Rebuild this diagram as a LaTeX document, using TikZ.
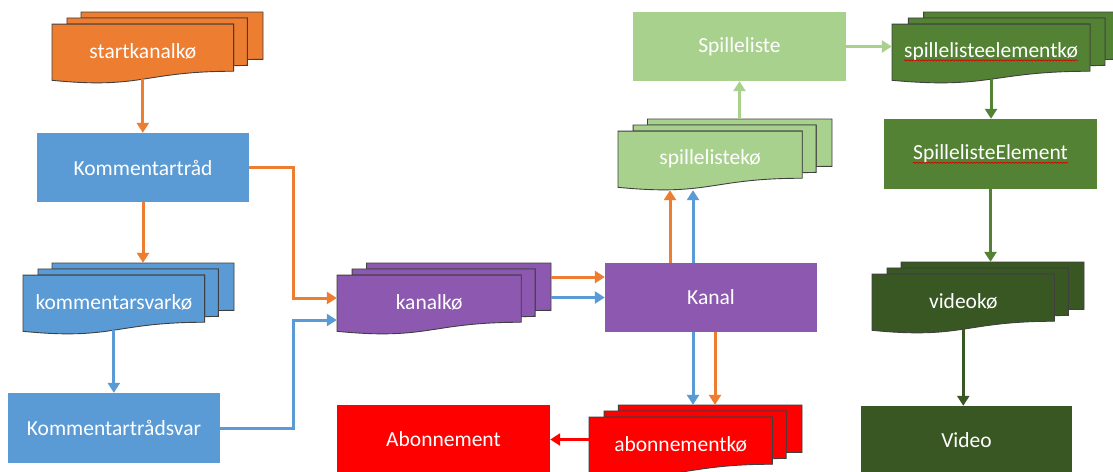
\documentclass[tikz,border=0pt]{standalone}
\usepackage{fontspec}
\setmainfont{Carlito}
\usetikzlibrary{arrows.meta,decorations.pathmorphing}
\definecolor{cOr}{RGB}{237,125,49}
\definecolor{cBl}{RGB}{91,155,213}
\definecolor{cPu}{RGB}{140,88,176}
\definecolor{cRed}{RGB}{255,0,0}
\definecolor{cLg}{RGB}{169,209,142}
\definecolor{cDg}{RGB}{84,130,53}
\definecolor{cDdg}{RGB}{56,87,35}
\tikzset{
  box/.style={rectangle, inner sep=0pt, text=white, font=\fontsize{21.5}{26}\selectfont},
  conn/.style={line width=3pt, -{Triangle[length=10pt,width=12pt]}},
  docline/.style={draw=black!75, line width=0.9pt},
  squig/.style={draw=red!85!black, line width=0.7pt, decorate, decoration={snake, amplitude=0.6pt, segment length=3pt}}
}
\newcommand\mdoc[7]{%
  \begin{scope}[shift={(#2,#3)},x=#4pt,y=-#5pt]
    \filldraw[fill=#6,docline] (0.1376,0.084)--(0.1376,0)--(1,0)--(1,0.6663) .. controls (0.963,0.6663) and (0.926,0.6698) .. (0.926,0.6698)--(0.926,0.084)--cycle;
    \filldraw[fill=#6,docline] (0.0709,0.170)--(0.0709,0.084)--(0.926,0.084)--(0.926,0.7524) .. controls (0.8935,0.7524) and (0.861,0.757) .. (0.861,0.757)--(0.861,0.170)--cycle;
    \filldraw[fill=#6,docline] (0,0.9621) .. controls (0.4305,1.0899) and (0.4305,0.8344) .. (0.861,0.8344)--(0.861,0.170)--(0,0.170)--cycle;
    \node[box, minimum width={0.861*#4pt}, minimum height={0.776*#5pt}] (#1) at (0.4305,0.558) {#7};
    \node[inner sep=0pt, minimum width=#4pt, minimum height=#5pt] (#1-all) at (0.5,0.5) {};
  \end{scope}}
\begin{document}
\begin{tikzpicture}[x=1pt,y=-1pt]
\fill[white] (0,0) rectangle (1113,471);
\useasboundingbox (0,0) rectangle (1113,471);
\clip (0,0) rectangle (1113,471);

% multidocuments
\mdoc{startq}{52}{12}{211}{71}{cOr}{startkanalkø}
\mdoc{ksq}{23}{263}{211}{71}{cBl}{kommentarsvarkø}
\mdoc{kanalq}{337}{263}{214}{71}{cPu}{kanalkø}
\mdoc{aboq}{589}{405}{213}{71}{cRed}{abonnementkø}
\mdoc{splq}{618}{119}{214}{71}{cLg}{spillelistekø}
\mdoc{speq}{892}{12}{230}{71}{cDg}{}
\mdoc{vq}{872}{262}{212}{71}{cDdg}{videokø}
\node[box] (speq-t) at (speq) {spillelisteelementkø};

% rectangles
\node[box, fill=cBl, minimum width=212pt, minimum height=69pt] (kt) at (143,167.5) {Kommentartråd};
\node[box, fill=cBl, minimum width=212pt, minimum height=70pt] (ktsvar) at (114,428) {Kommentartrådsvar};
\node[box, fill=cRed, minimum width=213pt, minimum height=69pt] (abo) at (443.5,439.5) {Abonnement};
\node[box, fill=cPu, minimum width=212pt, minimum height=69pt] (kanal) at (711,297.5) {Kanal};
\node[box, fill=cLg, minimum width=213pt, minimum height=69pt] (spl) at (739.5,46.5) {Spilleliste};
\node[box, fill=cDg, minimum width=213pt, minimum height=70pt] (spe) at (990.5,154) {};
\node[box] (spe-t) at (spe) {SpillelisteElement};
\node[box, fill=cDdg, minimum width=211pt, minimum height=68pt] (video) at (966.5,440) {Video};

% spell-check squiggles
\draw[squig] ([yshift=-3pt]speq-t.base west) -- ([yshift=-3pt]speq-t.base east);
\draw[squig] ([yshift=-3pt]spe-t.base west) -- ([yshift=-3pt]spe-t.base east);

% connectors
\draw[conn,cOr] (startq.south) -- (startq.south |- kt.north);
\draw[conn,cOr] (kt.south) -- (kt.south |- ksq-all.north);
\draw[conn,cBl] (ksq.south) -- (ksq.south |- ktsvar.north);
\draw[conn,cOr] (kt.east) -- ++(44,0) |- ([yshift=4.6pt]kanalq.west);
\draw[conn,cBl] (ktsvar.east) -- ++(73,0) |- ([yshift=-17.4pt]kanalq.west);
\draw[conn,cOr] ([yshift=20.5pt]kanal.west -| kanalq-all.east) -- ([yshift=20.5pt]kanal.west);
\draw[conn,cBl] (kanal.west -| kanalq-all.east) -- (kanal.west);
\draw[conn,cOr] ([xshift=-41pt]kanal.north) -- ([xshift=-41pt]kanal.north |- splq-all.south);
\draw[conn,cBl] ([xshift=-18pt]kanal.north) -- ([xshift=-18pt]kanal.north |- splq-all.south);
\draw[conn,cBl] ([xshift=-18pt]kanal.south) -- ([xshift=-18pt]kanal.south |- aboq-all.north);
\draw[conn,cOr] ([xshift=4pt]kanal.south) -- ([xshift=4pt]kanal.south |- aboq-all.north);
\draw[conn,cRed] (aboq.west |- abo.east) -- (abo.east);
\draw[conn,cLg] (splq-all.north -| spl.south) -- (spl.south);
\draw[conn,cLg] (spl.east) -- (spl.east -| speq.west);
\draw[conn,cDg] (speq.south) -- (speq.south |- spe.north);
\draw[conn,cDg] (spe.south) -- (spe.south |- vq-all.north);
\draw[conn,cDdg] (vq.south) -- (vq.south |- video.north);
\end{tikzpicture}
\end{document}
